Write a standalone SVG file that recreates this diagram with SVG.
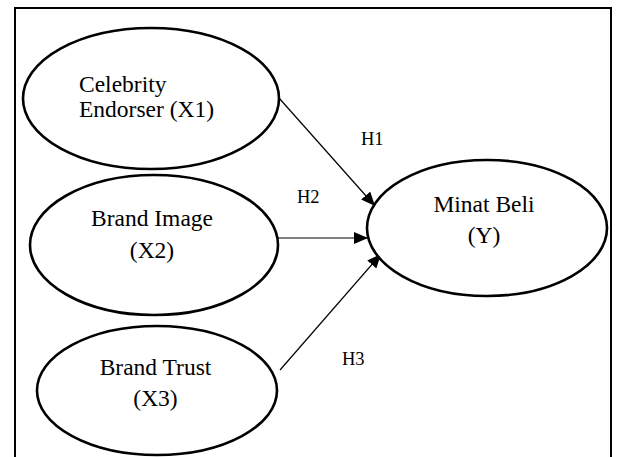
<svg xmlns="http://www.w3.org/2000/svg" width="619" height="457" viewBox="0 0 619 457">
<defs>
<style>
.node ellipse{fill:#fff;stroke:#000;stroke-width:2.6}
.t{font-family:"Liberation Serif","Times New Roman",serif;font-size:23.5px;fill:#000}
.h{font-family:"Liberation Serif","Times New Roman",serif;font-size:18.5px;fill:#000}
.edge{stroke:#000;stroke-width:1.2;fill:none;marker-end:url(#ah)}
</style>
<marker id="ah" viewBox="0 0 14 12" refX="14" refY="6" markerWidth="14" markerHeight="12" markerUnits="userSpaceOnUse" orient="auto">
<path d="M0,0 L14,6 L0,12 Z" fill="#000"/>
</marker>
</defs>
<rect width="619" height="457" fill="#fff"/>
<path d="M15,457 L15,8 L611,8 L611,457" fill="none" stroke="#000" stroke-width="2"/>
<g id="connectors">
<line class="edge" x1="279" y1="98" x2="375" y2="206"/>
<line class="edge" x1="273" y1="238" x2="368" y2="238"/>
<line class="edge" x1="280" y1="370" x2="381" y2="254"/>
<text class="h" x="361" y="145">H1</text>
<text class="h" x="297" y="203">H2</text>
<text class="h" x="342" y="365">H3</text>
</g>
<g id="x1" class="node">
<ellipse cx="151" cy="98.5" rx="128" ry="70.5"/>
<text class="t" x="79" y="92">Celebrity</text>
<text class="t" x="79" y="117">Endorser (X1)</text>
</g>
<g id="x2" class="node">
<ellipse cx="154" cy="245" rx="124" ry="70"/>
<text class="t" x="152" y="226" text-anchor="middle">Brand Image</text>
<text class="t" x="152" y="258" text-anchor="middle">(X2)</text>
</g>
<g id="x3" class="node">
<ellipse cx="157" cy="390.5" rx="120" ry="64.5"/>
<text class="t" x="155.5" y="375" text-anchor="middle">Brand Trust</text>
<text class="t" x="155.5" y="406" text-anchor="middle">(X3)</text>
</g>
<g id="y" class="node">
<ellipse cx="487" cy="228" rx="120" ry="68"/>
<text class="t" x="484" y="212" text-anchor="middle">Minat Beli</text>
<text class="t" x="484" y="243" text-anchor="middle">(Y)</text>
</g>
</svg>
